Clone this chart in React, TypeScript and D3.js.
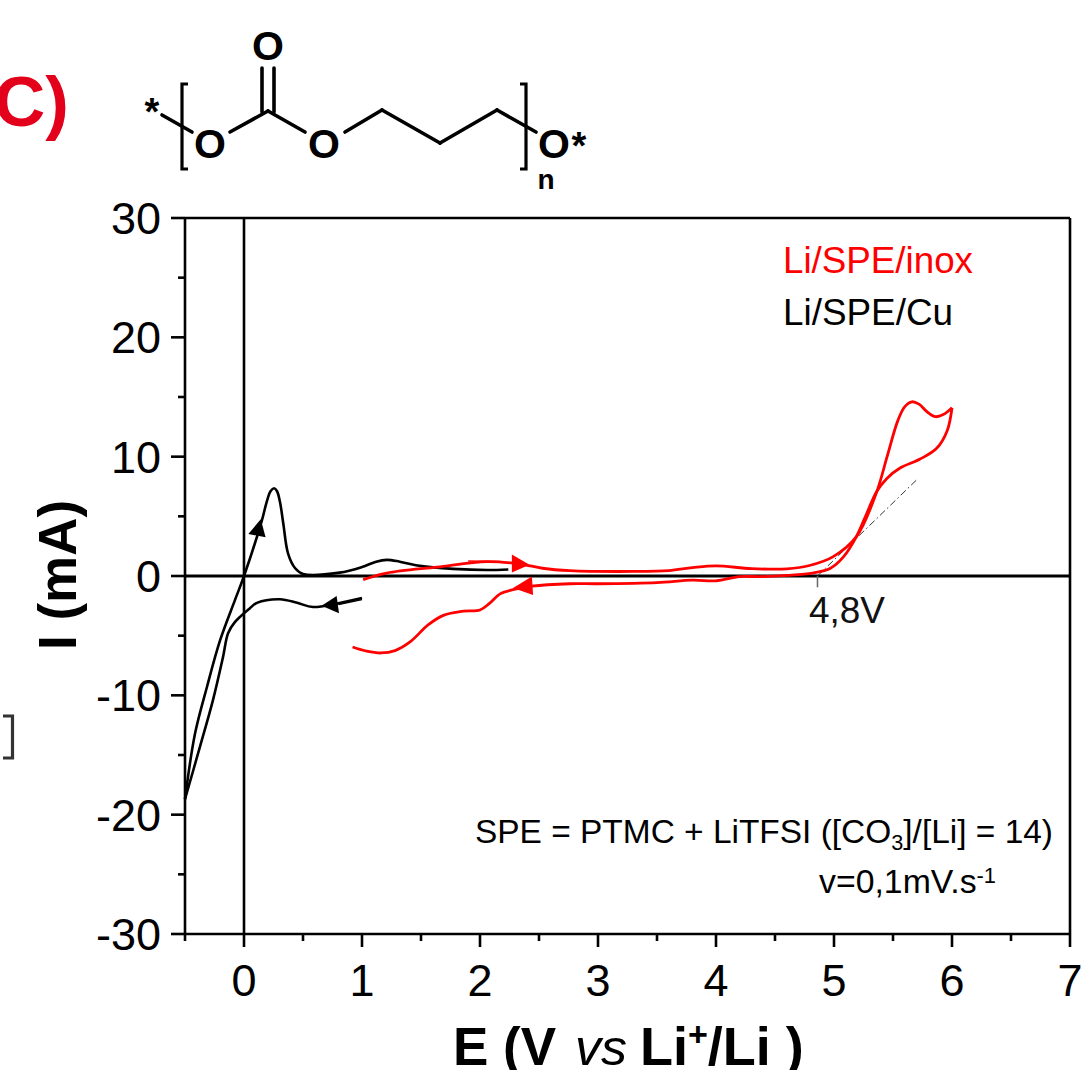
import React from "react";
import * as d3 from "d3";

type P = [number, number];

const xMajorTicks = [0, 1, 2, 3, 4, 5, 6, 7];
const xMinorTicks = [-0.5, 0.5, 1.5, 2.5, 3.5, 4.5, 5.5, 6.5];
const yMajorTicks = [-30, -20, -10, 0, 10, 20, 30];
const yMinorTicks = [-25, -15, -5, 5, 15, 25];

const cuForward: P[] = [
  [-0.5, -18.7], [-0.415, -13.2], [-0.314, -9.3], [-0.203, -5.4], [-0.076, -2.0], [0, 0],
  [0.15, 4.6], [0.192, 6.2], [0.225, 7.1], [0.255, 7.35], [0.28, 7.1], [0.305, 6.2], [0.333, 4.4], [0.373, 1.9],
  [0.432, 0.67], [0.5, 0.17], [0.81, 0.28], [1.0, 0.75], [1.12, 1.2], [1.21, 1.35], [1.32, 1.2], [1.49, 0.85],
  [1.77, 0.6], [2.06, 0.5], [2.24, 0.55],
];
const cuReverse: P[] = [
  [1.0, -1.85], [0.79, -2.3], [0.585, -2.6], [0.45, -2.25], [0.305, -1.95], [0.11, -2.25],
  [0.05, -2.7], [-0.076, -3.85], [-0.135, -4.8], [-0.178, -6.8], [-0.263, -10.4], [-0.373, -14.3], [-0.5, -18.7],
];
const cuStub: P[] = [[0.8, -2.38], [1.0, -1.98]];

const inoxForward: P[] = [
  [1.01, -0.3], [1.21, 0.25], [1.635, 0.75], [2.06, 1.2], [2.34, 1.0], [2.53, 0.65], [2.76, 0.45],
  [3.3, 0.38], [3.6, 0.45], [3.8, 0.7], [4.0, 0.85], [4.3, 0.62], [4.6, 0.6], [4.8, 0.9],
  [4.99, 1.6], [5.19, 3.3], [5.36, 7], [5.45, 10], [5.54, 13], [5.6, 14.2], [5.66, 14.6], [5.72, 14.4],
  [5.79, 13.75], [5.86, 13.35], [5.93, 13.55], [6.0, 14.1],
];
const inoxReverse: P[] = [
  [6.0, 14.1], [5.96, 12.2], [5.87, 10.7], [5.73, 9.8], [5.56, 9.05], [5.45, 8.2], [5.36, 7.05],
  [5.28, 5.3], [5.19, 3.3], [5.08, 1.6], [4.97, 0.65], [4.82, 0.25], [4.6, 0.05], [4.37, -0.05],
  [4.2, -0.05], [4.0, -0.4], [3.8, -0.35], [3.5, -0.55], [3, -0.65], [2.76, -0.65], [2.44, -0.85],
  [2.28, -1.15], [2.17, -1.5], [2.08, -2.3], [2.0, -2.85], [1.86, -2.95], [1.69, -3.3],
  [1.56, -4.1], [1.41, -5.5], [1.28, -6.25], [1.16, -6.45], [1.04, -6.3], [0.92, -5.95],
];
const inoxStub: P[] = [[1.9, 1.25], [2.2, 1.2]];

const tangent: P[] = [[4.86, 0], [5.71, 8.15]];
const onsetTick: P[] = [[4.86, 0], [4.86, -0.95]];

const blackArrows: P[][] = [
  [[0.142, 4.75], [0.037, 3.52], [0.183, 3.24]],
  [[0.658, -2.5], [0.785, -1.68], [0.805, -3.13]],
];
const redArrows: P[][] = [
  [[2.42, 0.95], [2.27, 1.8], [2.27, 0.3]],
  [[2.28, -1.0], [2.44, -0.05], [2.45, -1.6]],
];

const bonds: [number, number, number, number][] = [
  [162, 115, 192, 132], [230, 132, 268, 111], [268, 111, 305, 132],
  [345, 132, 382, 110], [382, 110, 440, 143], [440, 143, 497, 110], [497, 110, 536, 132],
  [262, 68, 262, 112], [274, 68, 274, 112],
];
const brackets: string[] = ["M188 84H182V169H188", "M520 84H526V169H520", "M3 716H12.5V758H3"];
const oxygenAtoms: P[] = [[268, 60], [210, 158], [324, 158], [554, 158]];

const xScale = d3.scaleLinear().domain([-0.5, 7]).range([185, 1070]);
const yScale = d3.scaleLinear().domain([-30, 30]).range([934, 218]);
const path = d3.line<P>().x((d) => xScale(d[0])).y((d) => yScale(d[1])).curve(d3.curveCatmullRom.alpha(0.5));
const poly = d3.line<P>().x((d) => xScale(d[0])).y((d) => yScale(d[1]));

const sans = "'Liberation Sans', Arial, sans-serif";

export default function App() {
  const left = xScale(-0.5);
  const right = xScale(7);
  const top = yScale(30);
  const bottom = yScale(-30);
  return (
    <svg width={1082} height={1070} viewBox="0 0 1082 1070"
      style={{ position: "absolute", left: 0, top: 0, background: "#fff" }} fontFamily={sans}>
      {/* structure */}
      <text x={-6} y={126} fontSize={71} fontWeight="bold" fill="#e2001a">C)</text>
      <g stroke="#000" strokeWidth={3.6} strokeLinecap="round" fill="none">
        {bonds.map((b, i) => <line key={i} x1={b[0]} y1={b[1]} x2={b[2]} y2={b[3]} />)}
      </g>
      {brackets.map((d, i) => (
        <path key={i} d={d} fill="none" stroke={i === 2 ? "#333" : "#000"} strokeWidth={3.2} />
      ))}
      <g fontSize={41} fontWeight="bold" textAnchor="middle" fill="#000">
        {oxygenAtoms.map((a, i) => <text key={i} x={a[0]} y={a[1]}>O</text>)}
      </g>
      <g fontSize={38} fontWeight="bold" textAnchor="middle" fill="#000">
        <text x={152} y={125}>*</text>
        <text x={579} y={159}>*</text>
      </g>
      <text x={546} y={189} fontSize={28} fontWeight="bold" textAnchor="middle">n</text>

      {/* frame */}
      <g stroke="#000" strokeWidth={2.6} fill="none">
        <line x1={left} y1={top} x2={right} y2={top} />
        <line x1={right} y1={top} x2={right} y2={bottom} />
        <line x1={left} y1={bottom} x2={right} y2={bottom} />
        <line x1={left} y1={top} x2={left} y2={bottom} />
        <line x1={xScale(0)} y1={top} x2={xScale(0)} y2={bottom} />
        <line x1={left} y1={yScale(0)} x2={right} y2={yScale(0)} strokeWidth={3} />
        {xMajorTicks.map((t) => <line key={t} x1={xScale(t)} x2={xScale(t)} y1={bottom} y2={bottom + 13} />)}
        {xMinorTicks.map((t) => <line key={t} x1={xScale(t)} x2={xScale(t)} y1={bottom} y2={bottom + 7} />)}
        {yMajorTicks.map((t) => <line key={t} x1={left} x2={left - 14} y1={yScale(t)} y2={yScale(t)} />)}
        {yMinorTicks.map((t) => <line key={t} x1={left} x2={left - 7} y1={yScale(t)} y2={yScale(t)} />)}
      </g>
      <g fontSize={45} textAnchor="middle" fill="#000">
        {xMajorTicks.map((t) => <text key={t} x={xScale(t)} y={996}>{t}</text>)}
      </g>
      <g fontSize={45} textAnchor="end" fill="#000">
        {yMajorTicks.map((t) => <text key={t} x={161} y={yScale(t) + 16}>{t}</text>)}
      </g>

      {/* curves */}
      <path d={poly(tangent) ?? ""} fill="none" stroke="#333" strokeWidth={1} strokeDasharray="7 3 1.5 3" />
      <path d={poly(onsetTick) ?? ""} fill="none" stroke="#666" strokeWidth={1.5} />
      <g fill="none" stroke="#000" strokeWidth={2.6}>
        <path d={path(cuForward) ?? ""} />
        <path d={path(cuReverse) ?? ""} />
        <path d={poly(cuStub) ?? ""} strokeWidth={1.5} />
      </g>
      <g fill="none" stroke="#ff0000" strokeWidth={2.8}>
        <path d={path(inoxForward) ?? ""} />
        <path d={path(inoxReverse) ?? ""} />
        <path d={poly(inoxStub) ?? ""} strokeWidth={1.5} />
      </g>
      {blackArrows.map((a, i) => <path key={i} d={(poly(a) ?? "") + "Z"} fill="#000" />)}
      {redArrows.map((a, i) => <path key={i} d={(poly(a) ?? "") + "Z"} fill="#ff0000" />)}

      {/* annotations */}
      <text x={783} y={273} fontSize={37} fill="#ff0000" textLength={190} lengthAdjust="spacingAndGlyphs">Li/SPE/inox</text>
      <text x={783} y={325} fontSize={37} fill="#000" textLength={170} lengthAdjust="spacingAndGlyphs">Li/SPE/Cu</text>
      <text x={809} y={623} fontSize={37} fill="#111" textLength={76} lengthAdjust="spacingAndGlyphs">4,8V</text>
      <text x={475} y={843} fontSize={34} fill="#000" textLength={578} lengthAdjust="spacingAndGlyphs">
        SPE = PTMC + LiTFSI ([CO<tspan fontSize={22} dy={7}>3</tspan><tspan dy={-7}>]/[Li] = 14)</tspan>
      </text>
      <text x={819} y={893} fontSize={34} fill="#000" textLength={177} lengthAdjust="spacingAndGlyphs">
        v=0,1mV.s<tspan fontSize={22} dy={-10}>-1</tspan>
      </text>

      {/* axis titles */}
      <text x={453} y={1065} fontSize={53} fontWeight="bold" fill="#000">E (V</text>
      <text x={575} y={1065} fontSize={50} fontStyle="italic" fill="#000" textLength={52} lengthAdjust="spacingAndGlyphs">vs</text>
      <text x={640} y={1065} fontSize={54} fontWeight="bold" fill="#000">
        Li<tspan fontSize={34} dy={-19}>+</tspan><tspan dy={19}>/Li )</tspan>
      </text>
      <text transform="translate(76,650) rotate(-90)" fontSize={53} fontWeight="bold" fill="#000">I (mA)</text>
    </svg>
  );
}
